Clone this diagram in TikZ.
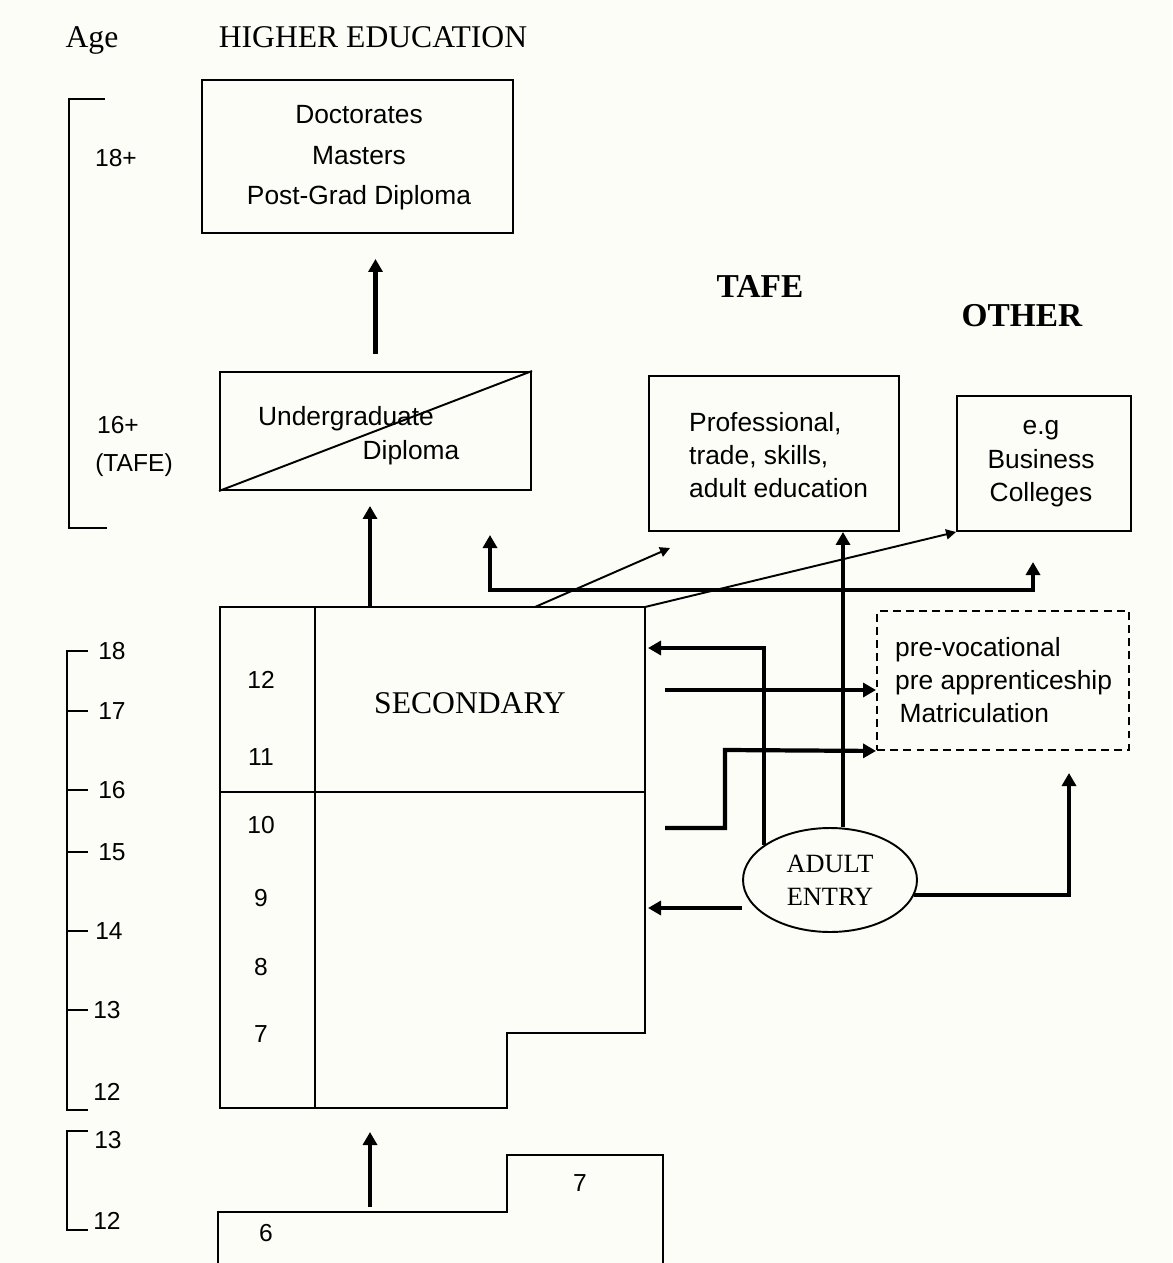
\documentclass[tikz,border=0pt]{standalone}
\usepackage{fontspec}
\setmainfont{Liberation Serif}
\setsansfont{Liberation Sans}
\usepackage{xcolor}
\usetikzlibrary{arrows.meta,positioning,fit,shapes.geometric}

\definecolor{fondo}{RGB}{253,253,248}

\begin{document}
\begin{tikzpicture}[x=0.02cm,y=-0.02cm,
  caja/.style={draw,line width=1.1pt,inner sep=0pt},
  txt/.style={font=\sffamily\fontsize{15}{19}\selectfont,align=left},
  ser/.style={font=\rmfamily\fontsize{18}{22}\selectfont},
  tit/.style={font=\rmfamily\bfseries\fontsize{19}{23}\selectfont},
  edad/.style={font=\sffamily\fontsize{14}{17}\selectfont},
  esc/.style={line width=1.1pt},
  fl/.style={-{Triangle[length=2.6mm,width=2.8mm]},line width=2.4pt},
  fd/.style={-{Triangle[length=2mm,width=2mm]},line width=1.1pt}]

  \fill[fondo] (0,0) rectangle (1172,1263);
  \useasboundingbox (0,0) rectangle (1172,1263);

  % headings
  \node[ser] (age) at (92,40) {Age};
  \node[ser] (he) at (373,37) {HIGHER EDUCATION};
  \node[tit] (tafe) at (760,286) {TAFE};
  \node[tit] (other) at (1022,316) {OTHER};

  % ages, higher education
  \draw[esc] (105,99) -- (69,99) -- (69,528) -- (107,528);
  \node[edad] (a18p) at (116,158) {18+};
  \node[edad] (a16p) at (118,425) {16+};
  \node[edad] (atafe) at (134,465) {(TAFE)};

  \node[caja,fit={(202,80) (513,233)}] (doc) {};
  \node[txt,align=center,font=\sffamily\fontsize{15}{23}\selectfont] (doct)
    at (359,158) {Doctorates\\Masters\\Post-Grad Diploma};

  \node[caja,fit={(220,372) (531,490)}] (und) {};
  \draw[esc] (und.south west) -- (und.north east);
  \node[txt] (und1) at (346,419) {Undergraduate};
  \node[txt] (und2) at (411,453) {Diploma};

  \draw[fl,shorten <=3.4mm,shorten >=5mm] (und.north) -- (und.north |- doc.south);

  % TAFE and other providers
  \node[caja,fit={(649,376) (899,531)}] (taf) {};
  \node[txt,anchor=west] (taft) at (683,455)
    {Professional,\\trade, skills,\\adult education};
  \node[caja,fit={(957,396) (1131,531)}] (oth) {};
  \node[txt,align=center] (otht) at (1041,464) {e.g\\Business\\Colleges};
  \node[caja,dashed,dash pattern=on 4.5pt off 3pt,fit={(877,611) (1129,750)}] (pre) {};
  \node[txt,anchor=west] (pret) at (889,680)
    {pre-vocational\\pre apprenticeship\\\,Matriculation};

  % secondary block
  \coordinate (s-nw) at (220,607);
  \coordinate (s-ne) at (645,607);
  \coordinate (s-n) at (370,607);
  \coordinate (s-e) at (648,0);
  \draw[esc] (s-nw) -- (s-ne) -- (645,1033) -- (507,1033) -- (507,1108)
    -- (220,1108) -- cycle;
  \draw[esc] (315,607) -- (315,1108);
  \draw[esc] (220,792) -- (645,792);
  \node[ser] (sec) at (470,703) {SECONDARY};
  \foreach \g/\t in {12/680,11/757,10/825,9/898,8/967,7/1034}
    \node[edad] (g\g) at (261,\t) {\g};

  \draw[esc] (88,651) -- (67,651) -- (67,1110) -- (88,1110);
  \foreach \t in {711,790,852,931,1010}
    \draw[esc] (67,\t) -- (88,\t);
  \foreach \a/\t/\xx in {18/651/112,17/711/112,16/790/112,15/852/112,14/931/109,13/1010/107,12/1092/107}
    \node[edad] (s\a) at (\xx,\t) {\a};

  % primary block
  \draw[esc] (218,1270) -- (218,1212) -- (507,1212) -- (507,1155) -- (663,1155) -- (663,1270);
  \node[edad] (p6) at (266,1233) {6};
  \node[edad] (p7) at (580,1183) {7};
  \draw[esc] (88,1131) -- (67,1131) -- (67,1230) -- (88,1230);
  \node[edad] (p13) at (108,1140) {13};
  \node[edad] (p12) at (107,1221) {12};

  \coordinate (pr-n) at (370,1207);
  \draw[fl] (pr-n) -- (370,1132);

  % pathways out of secondary
  \node[draw,line width=1.1pt,ellipse,minimum width=3.48cm,minimum height=2.08cm,
        inner sep=0pt,font=\rmfamily\fontsize{15}{19}\selectfont,align=center] (ad)
    at (830,880) {ADULT\\ENTRY};

  \draw[fl,shorten >=3mm] (s-n) -- (s-n |- und.south);
  \coordinate (t-l) at (490,535);
  \coordinate (t-r) at (1033,562);
  \draw[{Triangle[length=2.6mm,width=2.8mm]}-{Triangle[length=2.6mm,width=2.8mm]},
        line width=2.4pt] (t-l) -- (490,590) -- (1033,590) -- (t-r);
  \draw[fd] (535,607) -- (670,548);
  \draw[fd] (s-ne) -- (oth.south west);

  \draw[fl] ([xshift=2.6mm]ad.north) -- ([xshift=2.6mm]ad.north |- taf.south);
  \draw[fl] (ad.152) |- (648,648);
  \draw[fl] ([yshift=-5.6mm]ad.west) -- ([yshift=-5.6mm]ad.west -| s-e);
  \draw[fl] (ad.350) -| (1069,773);

  \coordinate (s-e1) at (665,690);
  \coordinate (s-e2) at (665,828);
  \draw[fl] (s-e1) -- (s-e1 -| pre.west);
  \draw[fl] (s-e2) -- (725,828) -- (725,750) -- (pre.south west);
\end{tikzpicture}
\end{document}
